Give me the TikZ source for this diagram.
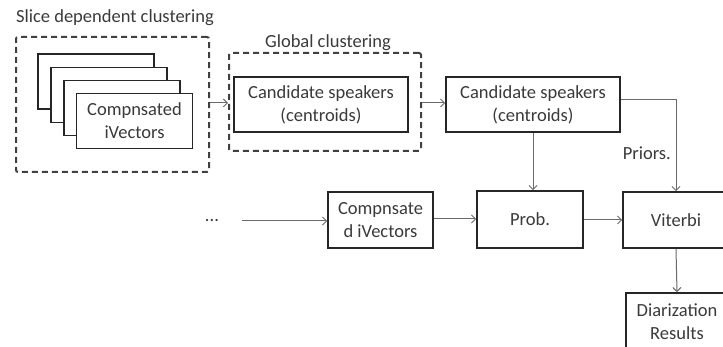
\documentclass[tikz,border=0pt]{standalone}
\usepackage{fontspec}
\setmainfont{Carlito}
\usetikzlibrary{arrows.meta,calc}
\definecolor{txt}{HTML}{3A3A3A}
\definecolor{ln}{HTML}{6A6A6A}
\tikzset{
  blk/.style={draw=black!85, line width=1.6pt, fill=white, inner sep=0pt, align=center,
    text=txt, font=\fontsize{18.5}{23}\selectfont},
  grp/.style={draw=black!75, line width=2pt, dash pattern=on 6pt off 4pt, rounded corners=2pt},
  lbl/.style={text=txt, font=\fontsize{18.5}{23}\selectfont, inner sep=0pt},
  arr/.style={draw=ln, line width=1pt, -{Straight Barb[length=4pt,width=8pt,line width=1pt]}}
}
\begin{document}
\begin{tikzpicture}[x=1pt,y=-1pt]
\useasboundingbox (0,0) rectangle (723,347);
% slice dependent clustering
\node[grp, minimum width=193pt, minimum height=135pt] (g1) at (112.5,104.5) {};
\node[lbl] (l1) at (115,18) {Slice dependent clustering};
\node[blk, minimum width=116pt, minimum height=55pt] (s0) at (96,81.5) {};
\node[blk, minimum width=116pt, minimum height=55pt] (s1) at (109,95) {};
\node[blk, minimum width=116pt, minimum height=55pt] (s2) at (122,108) {};
\node[blk, minimum width=116pt, minimum height=55pt] (s3) at (134.5,121) {Compnsated\\iVectors};
% global clustering
\node[grp, minimum width=192pt, minimum height=98pt] (g2) at (325,102) {};
\node[lbl] (l2) at (328,43) {Global clustering};
\node[blk, minimum width=174pt, minimum height=55pt] (c1) at (321,104.5) {Candidate speakers\\(centroids)};
\node[blk, minimum width=174pt, minimum height=55pt] (c2) at (533,104.5) {Candidate speakers\\(centroids)};
% lower row
\node[lbl] (dots) at (212,221) {...};
\coordinate (st) at (242,221);
\node[blk, minimum width=105pt, minimum height=56pt] (cv) at (380.5,220) {Compnsate\\d iVectors};
\node[blk, minimum width=106pt, minimum height=57pt] (pr) at (530,219.5) {Prob.};
\node[blk, minimum width=106pt, minimum height=56pt] (vt) at (676,220) {Viterbi};
\node[blk, minimum width=102pt, minimum height=57pt] (dr) at (677,321.5) {Diarization\\Results};
% connectors
\draw[arr] (g1.east |- 0,103) -- (g2.west |- 0,103);
\draw[arr] (g2.east |- 0,103) -- (c2.west |- 0,103);
\draw[arr] (c2.east |- 0,100) -| (vt.north);
\node[lbl, anchor=east] (pri) at (671,153) {Priors.};
\draw[arr] (c2.south) -- (c2.south |- pr.north);
\draw[arr] (st) -- (cv.west |- st);
\draw[arr] (cv.east |- 0,219) -- (pr.west |- 0,219);
\draw[arr] (pr.east |- 0,220) -- (vt.west |- 0,220);
\draw[arr] (vt.south) -- (dr.north);
\end{tikzpicture}
\end{document}
